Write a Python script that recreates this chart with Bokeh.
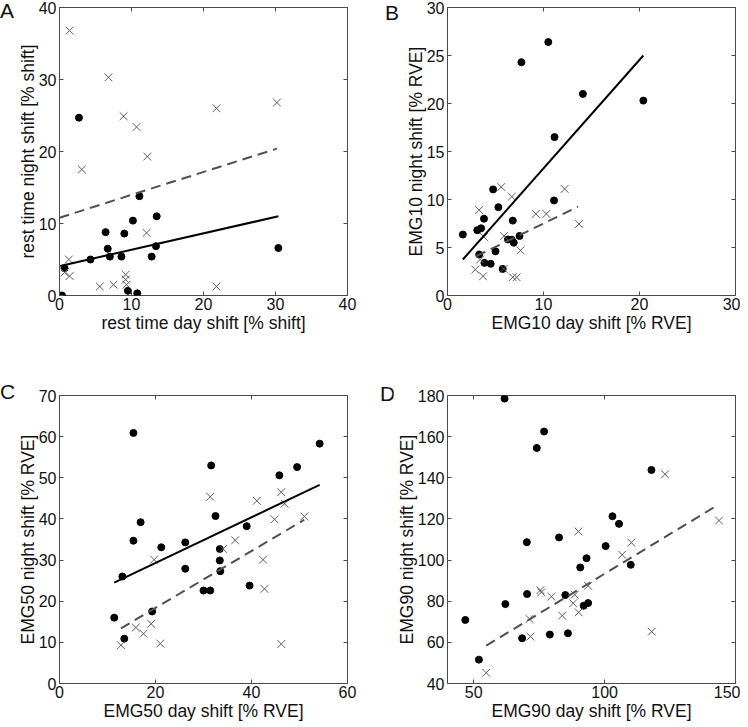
from bokeh.plotting import figure
from bokeh.layouts import row, column
from bokeh.models import LinearAxis, FixedTicker, Range1d, Div
from bokeh.embed import file_html
from bokeh.resources import INLINE

FONT = "Liberation Sans"

# ---------------- Panel A: rest time ----------------
A_dot_day = [0.0, 0.35, 0.7, 2.7, 4.3, 6.4, 6.7, 7.0, 8.6, 9.0, 10.2, 11.1, 13.5, 13.4, 12.8, 9.5, 10.8, 30.4]
A_dot_night = [0.0, 0.0, 3.8, 24.7, 5.0, 8.8, 6.5, 5.4, 5.4, 8.6, 10.4, 13.8, 11.0, 6.85, 5.4, 0.65, 0.3, 6.6]
A_x_day = [1.4, 6.8, 8.9, 10.7, 12.2, 3.1, 21.8, 30.2, 12.1, 1.3, 1.4, 0.7, 5.6, 7.5, 9.2, 9.2, 9.3, 21.8]
A_x_night = [36.8, 30.3, 24.9, 23.4, 19.3, 17.5, 26.0, 26.8, 8.7, 5.0, 2.7, 3.2, 1.25, 1.5, 2.9, 2.2, 1.5, 1.25]
A_fit_solid_x = [0.1, 30.4]
A_fit_solid_y = [4.1, 11.0]
A_fit_dash_x = [0.0, 30.2]
A_fit_dash_y = [10.8, 20.4]
A_xticks = [0, 10, 20, 30, 40]
A_yticks = [0, 10, 20, 30, 40]

# ---------------- Panel B: EMG10 ----------------
B_dot_day = [1.6, 3.1, 3.5, 3.8, 3.3, 3.85, 4.5, 4.75, 5.0, 5.3, 5.75, 6.3, 6.7, 6.9, 6.8, 7.5, 7.7, 10.5, 11.15, 11.1, 14.1, 20.4]
B_dot_night = [6.35, 6.8, 7.0, 8.0, 4.27, 3.4, 3.3, 11.05, 4.6, 9.2, 2.77, 5.84, 5.8, 5.5, 7.8, 6.2, 24.3, 26.4, 16.5, 9.9, 21.0, 20.3]
B_x_day = [5.6, 6.7, 3.3, 3.8, 5.9, 7.6, 3.4, 2.9, 3.7, 5.85, 6.8, 7.2, 9.2, 10.3, 12.2, 13.7]
B_x_night = [11.3, 10.3, 8.9, 6.1, 6.2, 4.7, 3.75, 2.7, 2.0, 2.77, 1.9, 1.9, 8.5, 8.5, 11.1, 7.45]
B_fit_solid_x = [1.6, 20.4]
B_fit_solid_y = [3.75, 25.0]
B_fit_dash_x = [3.0, 13.6]
B_fit_dash_y = [4.1, 9.25]
B_xticks = [0, 10, 20, 30]
B_yticks = [0, 5, 10, 15, 20, 25, 30]

# ---------------- Panel C: EMG50 ----------------
C_dot_day = [11.4, 13.1, 13.5, 15.4, 15.4, 16.9, 19.3, 21.2, 26.2, 26.2, 30.0, 31.4, 31.6, 32.5, 33.4, 33.4, 33.5, 39.0, 39.6, 45.8, 49.5, 54.2]
C_dot_night = [16.0, 26.0, 10.9, 60.9, 34.7, 39.2, 17.5, 33.1, 34.3, 27.9, 22.6, 22.6, 53.0, 40.7, 32.7, 29.9, 27.3, 38.25, 23.8, 50.6, 52.6, 58.3]
C_x_day = [12.8, 15.9, 17.5, 19.1, 21.0, 19.7, 31.4, 34.1, 36.6, 41.1, 42.4, 42.7, 44.8, 46.2, 46.9, 51.0, 46.2]
C_x_night = [9.3, 13.6, 12.1, 14.5, 9.7, 30.1, 45.4, 32.7, 34.8, 44.4, 30.1, 23.0, 39.9, 46.5, 43.7, 40.6, 9.6]
C_fit_solid_x = [11.4, 54.2]
C_fit_solid_y = [24.5, 48.3]
C_fit_dash_x = [12.8, 51.0]
C_fit_dash_y = [13.4, 39.8]
C_xticks = [0, 20, 40, 60]
C_yticks = [0, 10, 20, 30, 40, 50, 60, 70]

# ---------------- Panel D: EMG90 ----------------
D_dot_day = [46.8, 52.0, 61.8, 62.1, 68.5, 70.3, 70.4, 74.1, 76.9, 79.1, 82.6, 85.0, 86.0, 90.7, 92.0, 93.7, 93.1, 100.4, 103.0, 105.5, 110.0, 117.9]
D_dot_night = [70.9, 51.6, 178.5, 78.6, 62.0, 108.7, 83.5, 154.5, 162.5, 63.8, 111.0, 83.0, 64.4, 96.4, 77.8, 79.1, 100.9, 106.8, 121.3, 117.6, 97.7, 143.8]
D_x_day = [54.8, 71.3, 71.7, 75.5, 75.8, 79.7, 83.8, 88.0, 88.6, 90.1, 90.0, 93.7, 106.7, 110.2, 118.0, 123.1, 143.7]
D_x_night = [45.2, 71.4, 62.8, 85.4, 84.3, 82.2, 73.0, 79.0, 83.2, 74.6, 113.9, 87.5, 102.6, 108.5, 65.2, 141.7, 119.2]
D_fit_dash_x = [54.8, 141.6]
D_fit_dash_y = [58.4, 125.5]
D_xticks = [50, 100, 150]
D_yticks = [40, 60, 80, 100, 120, 140, 160, 180]

AX_COLOR = "#4a4a4a"
TXT = "#111111"


def style_axis(ax, ticks, show_labels=True):
    ax.ticker = FixedTicker(ticks=ticks)
    ax.axis_line_color = None
    ax.major_tick_in = 4
    ax.major_tick_out = 0
    ax.major_tick_line_color = AX_COLOR
    ax.minor_tick_line_color = None
    ax.major_label_text_font = FONT
    ax.axis_label_text_font = FONT
    ax.axis_label_text_font_style = "normal"
    ax.axis_label_text_color = TXT
    ax.axis_label_text_font_size = "17.5px"
    if show_labels:
        ax.major_label_text_font_size = "16px"
        ax.major_label_text_color = TXT
    else:
        ax.major_label_text_font_size = "1px"
        ax.major_label_text_color = None
        ax.major_label_standoff = 0


def make_panel(xr, yr, xticks, yticks, xlabel, ylabel,
               dots, crosses, solid, dashed, width, height, borders):
    left, right, top, bottom = borders
    p = figure(width=width, height=height,
               x_range=Range1d(*xr), y_range=Range1d(*yr),
               output_backend="svg", toolbar_location=None,
               min_border_left=left, min_border_right=right,
               min_border_top=top, min_border_bottom=bottom)
    p.grid.visible = False
    p.outline_line_color = AX_COLOR
    p.outline_line_width = 1
    p.xaxis.axis_label = xlabel
    p.yaxis.axis_label = ylabel
    style_axis(p.xaxis[0], xticks)
    style_axis(p.yaxis[0], yticks)
    p.xaxis[0].major_label_standoff = 2
    p.xaxis[0].axis_label_standoff = 0
    p.yaxis[0].major_label_standoff = 3
    p.yaxis[0].axis_label_standoff = -2

    ra = LinearAxis()
    style_axis(ra, yticks, show_labels=False)
    p.add_layout(ra, "right")
    ta = LinearAxis()
    style_axis(ta, xticks, show_labels=False)
    p.add_layout(ta, "above")

    p.scatter(dots[0], dots[1], marker="circle", size=7,
              fill_color="black", line_color="black")
    p.scatter(crosses[0], crosses[1], marker="x", size=11,
              line_color="#5c5c5c", line_width=1)
    if solid is not None:
        p.line(solid[0], solid[1], line_color="black", line_width=2)
    if dashed is not None:
        p.line(dashed[0], dashed[1], line_color="#505050", line_width=2,
               line_dash="10 6")
    return p


def letter_div(letter, width, height, dx, dy):
    """Narrow strip holding a panel letter, offset in pixels from its top-left."""
    html = ('<div style="margin:%dpx 0 0 %dpx; font-family:\'%s\'; '
            'font-size:21px; line-height:21px; color:%s;">%s</div>'
            % (dy, dx, FONT, TXT, letter))
    return Div(text=html, width=width, height=height, margin=0)


TOP_H, BOT_H = 340, 383

pA = make_panel((0, 40), (0, 40), A_xticks, A_yticks,
                "rest time day shift [% shift]", "rest time night shift [% shift]",
                (A_dot_day, A_dot_night), (A_x_day, A_x_night),
                (A_fit_solid_x, A_fit_solid_y), (A_fit_dash_x, A_fit_dash_y),
                366, TOP_H, (45, 33, 7, 45))
pB = make_panel((0, 30), (0, 30), B_xticks, B_yticks,
                "EMG10 day shift [% RVE]", "EMG10 night shift [% RVE]",
                (B_dot_day, B_dot_night), (B_x_day, B_x_night),
                (B_fit_solid_x, B_fit_solid_y), (B_fit_dash_x, B_fit_dash_y),
                340, TOP_H, (47, 5, 7, 45))
pC = make_panel((0, 60), (0, 70), C_xticks, C_yticks,
                "EMG50 day shift [% RVE]", "EMG50 night shift [% RVE]",
                (C_dot_day, C_dot_night), (C_x_day, C_x_night),
                (C_fit_solid_x, C_fit_solid_y), (C_fit_dash_x, C_fit_dash_y),
                366, BOT_H, (45, 33, 55, 40))
pD = make_panel((40, 150), (40, 180), D_xticks, D_yticks,
                "EMG90 day shift [% RVE]", "EMG90 night shift [% RVE]",
                (D_dot_day, D_dot_night), (D_x_day, D_x_night),
                None, (D_fit_dash_x, D_fit_dash_y),
                347, BOT_H, (54, 5, 55, 40))

lA = letter_div("A", 14, TOP_H, 0, 0)
lB = letter_div("B", 20, TOP_H, 5, 2)
lC = letter_div("C", 14, BOT_H, 0, 41)
lD = letter_div("D", 13, BOT_H, 0, 43)

layout = column(row(lA, pA, lB, pB), row(lC, pC, lD, pD))

open("out.html", "w").write(file_html(layout, INLINE))
